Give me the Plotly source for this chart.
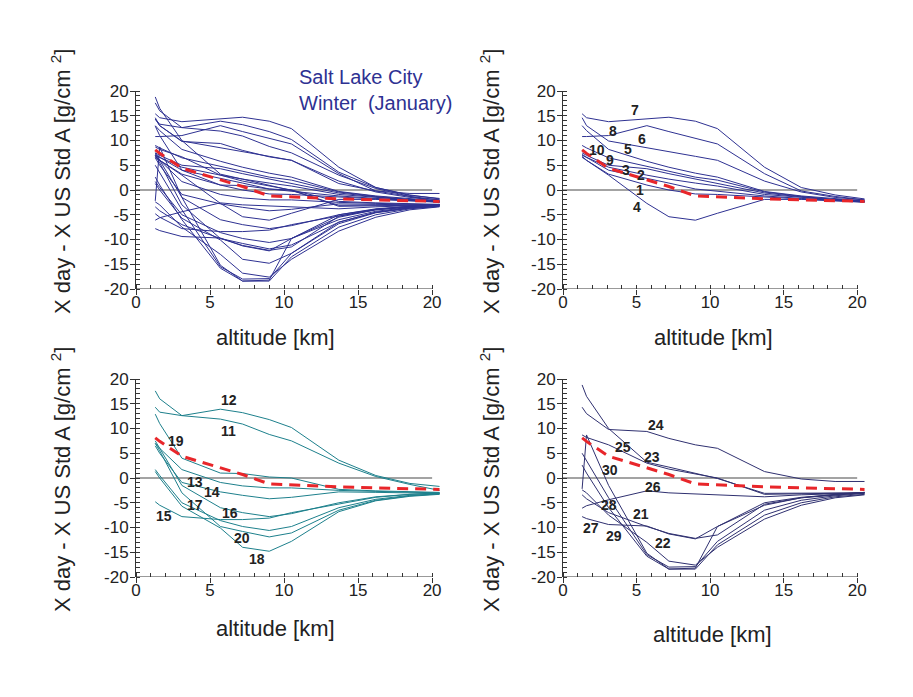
import plotly.graph_objects as go

# ---------------- data ----------------
ALT = [1.3, 1.6, 3.1, 5.7, 7.2, 9.0, 10.5, 13.7, 16.2, 18.5, 20.5]

P01 = [6.6, 6.0, 3.2, 1.0, 0.0, -0.8, -0.9, -1.4, -1.8, -2.2, -2.5]
P02 = [7.2, 6.6, 4.0, 2.4, 1.4, 0.2, -0.2, -1.2, -1.7, -2.1, -2.4]
P03 = [7.0, 6.6, 4.6, 3.0, 2.2, 1.4, 0.8, -0.9, -1.5, -2.0, -2.3]
P04 = [6.8, 6.0, 3.0, -2.7, -5.4, -6.1, -4.7, -1.9, -1.9, -2.2, -2.4]
P05 = [13.0, 12.0, 8.2, 5.8, 4.6, 3.4, 2.6, -0.3, -1.2, -1.8, -2.2]
P06 = [14.6, 13.0, 9.9, 8.6, 7.8, 6.8, 6.0, 1.8, -0.4, -1.5, -2.0]
P07 = [15.4, 14.6, 13.8, 14.4, 14.7, 13.9, 12.4, 4.6, 0.5, -1.0, -1.8]
P08 = [10.8, 10.8, 11.0, 13.0, 11.8, 10.5, 9.3, 3.3, -0.2, -1.3, -2.0]
P09 = [7.5, 7.0, 5.0, 4.3, 3.3, 2.2, 1.3, -0.6, -1.4, -2.0, -2.3]
P10 = [9.0, 8.5, 6.5, 4.8, 3.8, 2.6, 2.0, -0.4, -1.3, -1.9, -2.2]

P11 = [14.3, 13.3, 12.6, 11.9, 10.9, 8.8, 7.5, 3.0, 0.3, -1.3, -2.5]
P12 = [17.6, 16.0, 12.6, 13.9, 13.2, 11.8, 10.2, 3.6, 0.5, -1.1, -1.7]
P13 = [7.0, 6.0, 1.7, -0.9, -1.6, -2.0, -2.0, -2.5, -2.7, -2.9, -3.0]
P14 = [6.5, 5.0, -0.9, -2.8, -3.5, -4.2, -3.9, -2.8, -2.9, -3.0, -3.1]
P15 = [-4.8, -5.5, -7.8, -8.4, -8.4, -8.1, -7.0, -5.2, -3.9, -3.3, -3.0]
P16 = [7.5, 6.0, -1.5, -6.0, -7.0, -7.8, -7.2, -5.0, -3.8, -3.3, -3.1]
P17 = [1.7, 0.5, -5.0, -8.6, -9.8, -10.6, -9.8, -6.0, -4.3, -3.5, -3.2]
P18 = [1.3, 0.0, -5.7, -10.1, -14.0, -14.8, -12.8, -6.8, -4.6, -3.7, -3.3]
P19 = [12.9, 11.0, 4.0, 1.0, 0.9, 0.2, 0.0, -2.3, -2.6, -2.8, -2.9]
P20 = [7.0, 5.5, -3.0, -9.8, -10.8, -11.9, -11.1, -6.5, -4.5, -3.6, -3.2]

P21 = [-3.4, -4.2, -7.0, -9.8, -11.2, -12.2, -11.5, -5.3, -4.0, -3.4, -3.0]
P22 = [-2.4, -3.0, -7.5, -13.0, -16.8, -17.6, -14.0, -8.3, -5.5, -4.0, -3.4]
P23 = [8.7, 8.2, 6.7, 3.0, 1.8, 0.8, 0.0, -3.3, -3.2, -3.1, -3.0]
P24 = [14.3, 13.0, 9.8, 9.4, 8.0, 6.7, 6.0, 1.3, -0.2, -0.7, -0.7]
P25 = [18.8, 16.5, 10.0, 3.2, 2.2, 0.9, -0.1, -3.1, -3.1, -3.0, -3.0]
P26 = [-6.1, -5.6, -4.4, -2.6, -3.0, -3.2, -3.3, -3.8, -3.4, -3.2, -3.0]
P27 = [-7.8, -8.2, -9.4, -9.7, -11.3, -12.3, -9.8, -5.0, -3.9, -3.3, -2.9]
P28 = [5.0, 3.5, -4.0, -15.5, -18.0, -17.9, -12.8, -6.5, -4.5, -3.6, -3.1]
P29 = [2.6, 1.0, -6.0, -15.8, -18.4, -18.4, -13.5, -7.5, -5.0, -3.8, -3.3]
P30 = [-2.2, 8.7, -1.5, -15.2, -18.4, -18.2, -9.8, -5.5, -4.0, -3.3, -2.9]

MEAN = [8.1, 7.4, 4.4, 2.0, 0.7, -1.2, -1.4, -1.8, -2.0, -2.2, -2.3]

ZERO_X = [0, 20]
ZERO_Y = [0, 0]

GROUP_A = [P01, P02, P03, P04, P05, P06, P07, P08, P09, P10]
GROUP_B = [P11, P12, P13, P14, P15, P16, P17, P18, P19, P20]
GROUP_C = [P21, P22, P23, P24, P25, P26, P27, P28, P29, P30]

X_TICKS = [0, 5, 10, 15, 20]
Y_TICKS = [-20, -15, -10, -5, 0, 5, 10, 15, 20]
Y_TICK_TEXT = ["-20", "-15", "-10", "-5", "0", "5", "10", "15", "20"]

# labels: (text, altitude, value)
LABELS_A = [("7", 4.9, 16.1), ("8", 3.4, 12.0), ("6", 5.35, 10.3), ("5", 4.45, 8.3),
            ("10", 2.3, 8.1), ("9", 3.2, 6.1), ("3", 4.3, 4.1), ("2", 5.3, 3.0),
            ("1", 5.25, -0.1), ("4", 5.0, -3.4)]
LABELS_B = [("12", 6.26, 15.7), ("11", 6.24, 9.4), ("19", 2.7, 7.5), ("13", 4.0, -0.8),
            ("14", 5.1, -2.8), ("17", 4.0, -5.4), ("16", 6.35, -7.1), ("15", 1.9, -7.7),
            ("20", 7.14, -12.1), ("18", 8.2, -16.4)]
LABELS_C = [("24", 6.3, 10.7), ("25", 4.1, 6.3), ("23", 6.08, 4.2), ("30", 3.2, 1.6),
            ("26", 6.1, -1.75), ("28", 3.1, -5.5), ("21", 5.3, -7.3), ("27", 1.88, -10.0),
            ("29", 3.47, -11.65), ("22", 6.8, -13.2)]

# ---------------- style ----------------
NAVY = "#2e3192"
TEAL = "#1d808c"
SLATE = "#2f3070"
RED = "#e8262a"
GRAY = "#a3a3a3"
AXC = "#333333"
FONT = "Liberation Sans, Arial, Helvetica, sans-serif"
W, H = 913, 697
OFF = 8  # page body margin in the browser


def px(xp):
    return (xp - OFF) / W


def py(yp):
    return 1 - (yp - OFF) / H


fig = go.Figure()

panels = [
    ("x", "y", GROUP_A + GROUP_B + GROUP_C, NAVY, []),
    ("x2", "y2", GROUP_A, NAVY, LABELS_A),
    ("x3", "y3", GROUP_B, TEAL, LABELS_B),
    ("x4", "y4", GROUP_C, SLATE, LABELS_C),
]

annotations = []
for xr, yr, group, col, labels in panels:
    fig.add_trace(go.Scatter(x=ZERO_X, y=ZERO_Y, mode="lines", xaxis=xr, yaxis=yr,
                             line=dict(color=GRAY, width=2), hoverinfo="skip"))
    for prof in group:
        fig.add_trace(go.Scatter(x=ALT, y=prof, mode="lines", xaxis=xr, yaxis=yr,
                                 line=dict(color=col, width=1)))
    fig.add_trace(go.Scatter(x=ALT, y=MEAN, mode="lines", xaxis=xr, yaxis=yr,
                             line=dict(color=RED, width=3, dash="11px,7px")))
    for txt, xv, yv in labels:
        annotations.append(dict(x=xv, y=yv, xref=xr, yref=yr, text="<b>%s</b>" % txt,
                                xanchor="center", yanchor="middle",
                                showarrow=False, font=dict(size=14, color="#222", family=FONT)))
    fig.add_shape(type="line", x0=0, x1=20, y0=-20, y1=-20, xref=xr, yref=yr,
                  line=dict(color=AXC, width=1))

XD_L = [px(136), px(441)]
XD_R = [px(563), px(866)]
YD_T = [py(289), py(91)]
YD_B = [py(577), py(379)]


def xaxis(domain, anchor):
    return dict(domain=domain, anchor=anchor, range=[0, 20.6], tickmode="array",
                tickvals=X_TICKS, ticks="outside", ticklen=5, tickwidth=1, tickcolor=AXC,
                minor=dict(tickmode="array", tickvals=list(range(0, 21)), ticks="inside",
                           ticklen=4, tickwidth=1, tickcolor=AXC),
                showline=False, showgrid=False, zeroline=False, automargin=False,
                ticklabelstandoff=-7,
                tickfont=dict(size=17, color="#222", family=FONT))


def yaxis(domain, anchor):
    return dict(domain=domain, anchor=anchor, range=[-20, 20], tickmode="array",
                tickvals=Y_TICKS, ticktext=Y_TICK_TEXT, ticks="outside", ticklen=5,
                tickwidth=1, tickcolor=AXC,
                minor=dict(tickmode="array", tickvals=list(range(-20, 21)), ticks="inside",
                           ticklen=4, tickwidth=1, tickcolor=AXC),
                showline=True, linecolor=AXC, linewidth=1, showgrid=False, zeroline=False,
                automargin=False, ticklabelstandoff=-2,
                tickfont=dict(size=17, color="#222", family=FONT))


YTITLE = "X day - X US Std A [g/cm <sup>2</sup>]"
XTITLE = "altitude [km]"
for (xc, yc) in [(61, 182), (490, 182), (61, 480), (490, 480)]:
    annotations.append(dict(x=px(xc), y=py(yc), xref="paper", yref="paper",
                            xanchor="center", yanchor="middle",
                            text=YTITLE, textangle=-90, showarrow=False,
                            font=dict(size=22, color="#222", family=FONT)))
for (xc, yc) in [(275, 337), (713, 337), (275, 628), (712, 634)]:
    annotations.append(dict(x=px(xc), y=py(yc), xref="paper", yref="paper",
                            xanchor="center", yanchor="middle",
                            text=XTITLE, showarrow=False,
                            font=dict(size=22, color="#222", family=FONT)))
annotations.append(dict(x=px(297), y=py(90), xref="paper", yref="paper",
                        xanchor="left", yanchor="middle", align="left",
                        text="Salt Lake City<br>Winter  (January)", showarrow=False,
                        font=dict(size=20, color=NAVY, family=FONT)))

fig.update_layout(
    width=W, height=H,
    margin=dict(l=0, r=0, t=0, b=0, pad=0, autoexpand=False),
    paper_bgcolor="white", plot_bgcolor="white", showlegend=False,
    xaxis=xaxis(XD_L, "y"), yaxis=yaxis(YD_T, "x"),
    xaxis2=xaxis(XD_R, "y2"), yaxis2=yaxis(YD_T, "x2"),
    xaxis3=xaxis(XD_L, "y3"), yaxis3=yaxis(YD_B, "x3"),
    xaxis4=xaxis(XD_R, "y4"), yaxis4=yaxis(YD_B, "x4"),
    annotations=annotations,
)

fig.write_html("out.html")
